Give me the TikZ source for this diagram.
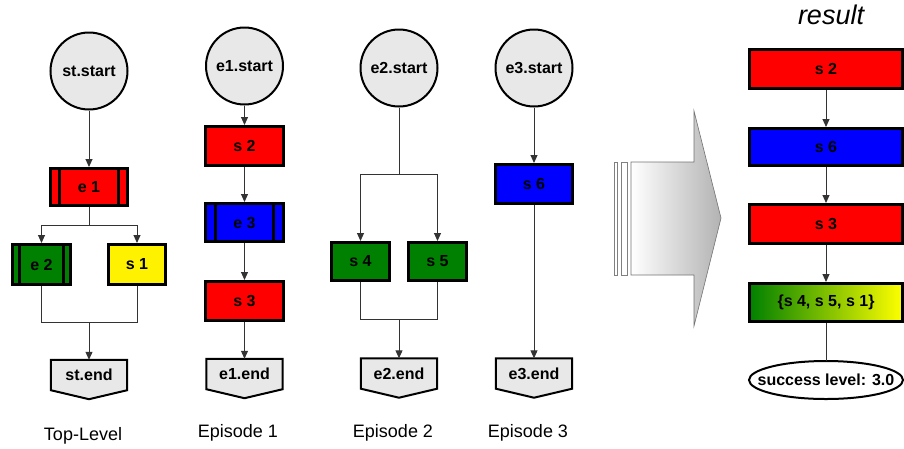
\documentclass[tikz,border=0pt]{standalone}
\usepackage{fontspec}
\setmainfont{Liberation Sans}
\usetikzlibrary{arrows.meta,calc}
\pgfdeclarelayer{background}
\pgfsetlayers{background,main}
\definecolor{lgray}{HTML}{E8E8E8}
\definecolor{dgreen}{HTML}{008000}
\newcommand\drawendshape[1]{%
  \begin{pgfonlayer}{background}
    \draw[endshape] (#1.north west) -- (#1.north east) -- (#1.south east) -- ($(#1.south)+(0,-9)$) -- (#1.south west) -- cycle;
  \end{pgfonlayer}}
\begin{document}
\begin{tikzpicture}[x=1pt,y=1pt,
  lbl/.style={font=\fontsize{16}{18}\selectfont\bfseries},
  startnode/.style={circle, draw=black, line width=2pt, fill=lgray, minimum size=77pt, inner sep=0pt, lbl},
  box/.style={rectangle, draw=black, line width=3pt, minimum width=77pt, minimum height=39pt, inner sep=0pt, lbl},
  epibox/.style={box, path picture={
      \draw[line width=2.5pt] ([xshift=#1]path picture bounding box.north west) -- ([xshift=#1]path picture bounding box.south west);
      \draw[line width=2.5pt] ([xshift=-#1]path picture bounding box.north east) -- ([xshift=-#1]path picture bounding box.south east);}},
  endnode/.style={rectangle, minimum width=76pt, minimum height=30pt, inner sep=0pt, lbl},
  endshape/.style={draw=black, line width=2pt, fill=lgray},
  conn/.style={draw=black!80, line width=1pt},
  arr/.style={conn, -{Triangle[length=8pt,width=7pt]}},
  captxt/.style={font=\fontsize{18}{20}\selectfont},
]
\useasboundingbox (0,0) rectangle (904,-448);

% ---------- Top-Level ----------
\node[startnode] (ststart) at (89,-71) {st.start};
\node[epibox=9pt, fill=red, minimum height=37pt] (te1) at (89,-187) {e 1};
\node[epibox=7pt, fill=dgreen, minimum width=58pt, minimum height=40pt] (te2) at (41.5,-264.5) {e 2};
\node[box, fill=yellow, minimum width=57pt, minimum height=40pt] (ts1) at (137,-264.5) {s 1};
\node[endnode] (stend) at (89,-375) {st.end};
\drawendshape{stend}
\coordinate (split1) at (89,-225);
\coordinate (join1) at (89,-322);
\draw[arr] (ststart) -- (te1);
\draw[conn] (te1) -- (split1);
\draw[arr] (split1) -| (te2.north);
\draw[arr] (split1) -| (ts1.north);
\draw[conn] (te2.south) |- (join1);
\draw[conn] (ts1.south) |- (join1);
\draw[arr] (join1) -- (stend);
\node[captxt] (captop) at (83,-436) {Top-Level};

% ---------- Episode 1 ----------
\node[startnode] (e1start) at (244.5,-66) {e1.start};
\node[box, fill=red, minimum width=78pt] (es2) at (244.5,-146) {s 2};
\node[epibox=10pt, fill=blue, minimum width=78pt, minimum height=38pt] (ee3) at (244.5,-222.5) {e 3};
\node[box, fill=red, minimum width=78pt] (es3) at (244.5,-301) {s 3};
\node[endnode] (e1end) at (244.5,-374) {e1.end};
\drawendshape{e1end}
\draw[arr] (e1start) -- (es2);
\draw[arr] (es2) -- (ee3);
\draw[arr] (ee3) -- (es3);
\draw[arr] (es3) -- (e1end);
\node[captxt] (capone) at (238,-433) {Episode 1};

% ---------- Episode 2 ----------
\node[startnode] (e2start) at (399,-68) {e2.start};
\coordinate (split2) at (399,-174);
\node[box, fill=dgreen, minimum width=58pt, minimum height=38pt] (es4) at (360.5,-261.5) {s 4};
\node[box, fill=dgreen, minimum width=58pt, minimum height=38pt] (es5) at (437.5,-261.5) {s 5};
\coordinate (join2) at (399,-319);
\node[endnode] (e2end) at (399,-373.5) {e2.end};
\drawendshape{e2end}
\draw[conn] (e2start) -- (split2);
\draw[arr] (split2) -| (es4.north);
\draw[arr] (split2) -| (es5.north);
\draw[conn] (es4.south) |- (join2);
\draw[conn] (es5.south) |- (join2);
\draw[arr] (join2) -- (e2end);
\node[captxt] (captwo) at (393,-433) {Episode 2};

% ---------- Episode 3 ----------
\node[startnode] (e3start) at (534,-68) {e3.start};
\node[box, fill=blue] (es6) at (534,-184) {s 6};
\node[endnode] (e3end) at (534,-373.5) {e3.end};
\drawendshape{e3end}
\draw[arr] (e3start) -- (es6);
\draw[arr] (es6) -- (e3end);
\node[captxt] (capthree) at (528,-433) {Episode 3};

% ---------- big arrow ----------
\draw[black!50, line width=0.6pt, fill=white] (614,-162) rectangle (617.5,-275);
\draw[black!50, line width=0.6pt, fill=white] (621,-162) rectangle (627,-275);
\shadedraw[left color=white, right color=black!30, draw=black!55, line width=0.6pt]
  (631,-162) -- (694,-162) -- (694,-111) -- (721,-218) -- (694,-326) -- (694,-275) -- (631,-275) -- cycle;

% ---------- result ----------
\node[font=\fontsize{27}{30}\selectfont\itshape] (result) at (831,-15) {result};
\node[box, fill=red, minimum width=153pt] (rs2) at (826,-69) {s 2};
\node[box, fill=blue, minimum width=153pt, minimum height=37pt] (rs6) at (826,-147) {s 6};
\node[box, fill=red, minimum width=153pt] (rs3) at (826,-224) {s 3};
\node[box, left color=dgreen, right color=yellow, minimum width=153pt, minimum height=38pt] (rcomb) at (826,-302.5) {\{s 4, s 5, s 1\}};
\node[lbl, inner sep=0pt, minimum width=154pt, minimum height=38pt] (rsucc) at (826,-380) {success level: 3.0};
\begin{pgfonlayer}{background}
  \draw[line width=2pt, fill=white] (rsucc.center) ellipse [x radius=77, y radius=19];
\end{pgfonlayer}
\draw[arr] (rs2) -- (rs6);
\draw[arr] (rs6) -- (rs3);
\draw[arr] (rs3) -- (rcomb);
\draw[conn] (rcomb) -- (rsucc);
\end{tikzpicture}
\end{document}
